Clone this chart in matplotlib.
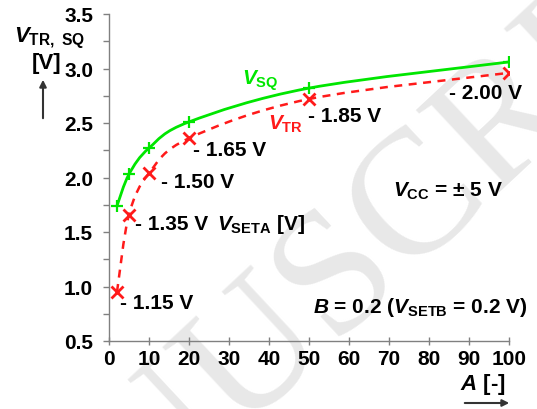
import numpy as np
import matplotlib
matplotlib.use("Agg")
import matplotlib.pyplot as plt
from matplotlib.path import Path
from matplotlib.patches import PathPatch, FancyArrowPatch

plt.rcParams['font.family'] = ['Liberation Sans', 'DejaVu Sans']
plt.rcParams['font.weight'] = 'bold'
plt.rcParams['mathtext.fontset'] = 'custom'
plt.rcParams['mathtext.rm'] = 'Liberation Sans:bold'
plt.rcParams['mathtext.it'] = 'Liberation Sans:bold:italic'
plt.rcParams['mathtext.bf'] = 'Liberation Sans:bold'

# data
A = [2, 5, 10, 20, 50, 100]
v_sq = [1.74, 2.03, 2.27, 2.51, 2.82, 3.06]
v_tr = [0.95, 1.66, 2.04, 2.36, 2.72, 2.96]
v_seta = ["- 1.15 V", "- 1.35 V", "- 1.50 V", "- 1.65 V", "- 1.85 V", "- 2.00 V"]
lbl_x = [2.8, 6.5, 13.1, 20.9, 49.7, 84.9]
lbl_y = [0.80, 1.53, 1.91, 2.21, 2.52, 2.73]

green = '#00e600'
red = '#ff1a1a'
fs = 15


def smooth_path(xs, ys):
    # catmull-rom style bezier through the points (like Excel "smoothed line")
    pts = np.column_stack([xs, ys]).astype(float)
    verts = [pts[0]]
    codes = [Path.MOVETO]
    n = len(pts)
    for i in range(n - 1):
        p0 = pts[i - 1] if i > 0 else pts[i]
        p1 = pts[i]
        p2 = pts[i + 1]
        p3 = pts[i + 2] if i + 2 < n else pts[i + 1]
        c1 = p1 + (p2 - p0) / 6.0
        c2 = p2 - (p3 - p1) / 6.0
        verts += [c1, c2, p2]
        codes += [Path.CURVE4] * 3
    return Path(verts, codes)


fig = plt.figure(figsize=(5.37, 4.10), dpi=100)

# watermark behind everything
fig.text(325 / 537, 1 - 292 / 410, "MANUSCRIPT", fontsize=128, family='Liberation Serif',
         weight='normal', color='#e8e8e8', rotation=43, ha='center', va='center',
         rotation_mode='anchor', zorder=-5)

ax = fig.add_axes([109 / 537, 1 - 342 / 410, 400 / 537, 327 / 410])
ax.patch.set_alpha(0)

ax.add_patch(PathPatch(smooth_path(A, v_sq), fill=False, edgecolor=green, lw=2.0))
ax.add_patch(PathPatch(smooth_path(A, v_tr), fill=False, edgecolor=red, lw=1.8,
                       linestyle=(0, (3.2, 2.6))))
ax.plot(A, v_sq, ls='none', marker='+', ms=9, mew=1.6, color=green)
ax.plot(A, v_tr, ls='none', marker='x', ms=8, mew=2.0, color=red)

for t, x, y in zip(v_seta, lbl_x, lbl_y):
    ax.text(x, y, t, fontsize=fs, ha='left', va='baseline')

ax.text(33.2, 2.86, r'$V_{\mathrm{SQ}}$', color=green, fontsize=fs, va='baseline')
ax.text(39.7, 2.45, r'$V_{\mathrm{TR}}$', color=red, fontsize=fs, va='baseline')
ax.text(27.1, 1.53, r'$V_{\mathrm{SETA}}$ [V]', fontsize=fs, va='baseline')
ax.text(70.9, 1.83, r'$V_{\mathrm{CC}}$ = ± 5 V', fontsize=fs, va='baseline')
ax.text(51.0, 0.77, r'$B$ = 0.2 ($V_{\mathrm{SETB}}$ = 0.2 V)', fontsize=fs, va='baseline')

ax.set_xlim(0, 100)
ax.set_ylim(0.5, 3.5)
ax.set_xticks(np.arange(0, 101, 10))
ax.set_yticks(np.arange(0.5, 3.51, 0.5))
ax.set_yticks(np.arange(0.75, 3.5, 0.5), minor=True)
ax.set_yticklabels([f"{v:.1f}" for v in np.arange(0.5, 3.51, 0.5)])

for s in ['top', 'right']:
    ax.spines[s].set_visible(False)
for s in ['left', 'bottom']:
    ax.spines[s].set_color('#808080')
    ax.spines[s].set_linewidth(1.0)
ax.tick_params(axis='y', which='both', direction='out', length=4.5, width=1,
               color='#808080', labelsize=fs, pad=7)
ax.tick_params(axis='x', direction='inout', length=6, width=1,
               color='#808080', labelsize=fs, pad=3)

# axis titles with arrows
fig.text(14 / 537, 1 - 42 / 410, r'$V_{\mathrm{TR,\ SQ}}$', fontsize=16, va='baseline')
fig.text(32 / 537, 1 - 69 / 410, '[V]', fontsize=16, va='baseline')
fig.text(460 / 537, 1 - 390 / 410, r'$A$ [-]', fontsize=16, va='baseline')
fig.add_artist(FancyArrowPatch(
    (43 / 537, 1 - 122 / 410), (43 / 537, 1 - 78 / 410), transform=fig.transFigure,
    arrowstyle='-|>', mutation_scale=10, color='#333333', lw=1.5))
fig.add_artist(FancyArrowPatch(
    (462 / 537, 1 - 404 / 410), (512 / 537, 1 - 404 / 410), transform=fig.transFigure,
    arrowstyle='-|>', mutation_scale=10, color='#333333', lw=1.5))

fig.savefig("out.png", dpi=100)
